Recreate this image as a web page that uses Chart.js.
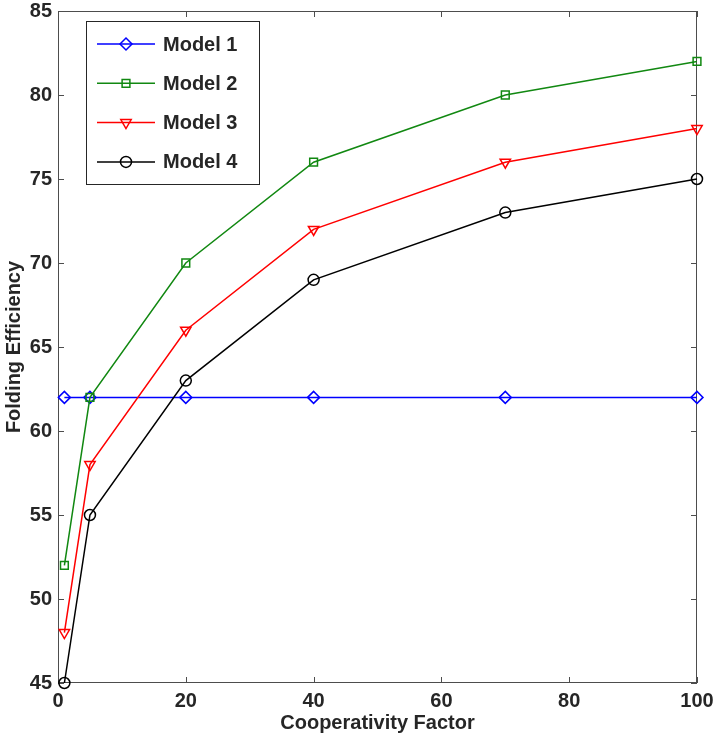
<!DOCTYPE html>
<html>
<head>
<meta charset="utf-8">
<script src="https://cdn.jsdelivr.net/npm/chart.js@4"></script>
<style>
  html, body { margin: 0; padding: 0; background: #fff; }
  #wrap { width: 718px; height: 738px; }
</style>
</head>
<body>
<div id="wrap"><canvas id="myChart" width="718" height="738"></canvas></div>
<script>
// data
const coopFactor = [1, 5, 20, 40, 70, 100];
const model1 = [62, 62, 62, 62, 62, 62];
const model2 = [52, 62, 70, 76, 80, 82];
const model3 = [48, 58, 66, 72, 76, 78];
const model4 = [45, 55, 63, 69, 73, 75];
const seriesNames = ['Model 1', 'Model 2', 'Model 3', 'Model 4'];
const xTicks = [0, 20, 40, 60, 80, 100];
const yTicks = [45, 50, 55, 60, 65, 70, 75, 80, 85];

const FONT = '"Liberation Sans", Arial, Helvetica, sans-serif';
const AXIS_COLOR = '#4d4d4d';
const TEXT_COLOR = '#262626';

function pts(ys) {
  return coopFactor.map((x, i) => ({ x: x, y: ys[i] }));
}

function makeSet(label, ys, color, style, radius, rotation, order) {
  return {
    label: label,
    data: pts(ys),
    borderColor: color,
    backgroundColor: 'rgba(0,0,0,0)',
    borderWidth: 1.5,
    pointStyle: style,
    pointRadius: radius,
    pointRotation: rotation,
    pointBorderColor: color,
    pointBackgroundColor: 'rgba(0,0,0,0)',
    pointBorderWidth: 1.5,
    tension: 0,
    clip: false,
    order: order
  };
}

// box round the plot, inward ticks, legend inside the plot
const matlabLook = {
  id: 'matlabLook',
  beforeDatasetsDraw(chart) {
    const ctx = chart.ctx;
    const a = chart.chartArea;
    const xs = chart.scales.x, ys = chart.scales.y;
    ctx.save();
    ctx.strokeStyle = AXIS_COLOR;
    ctx.lineWidth = 1;
    ctx.strokeRect(a.left + 0.5, a.top + 0.5, a.right - a.left - 1, a.bottom - a.top - 1);
    const tl = 6;
    ctx.beginPath();
    xTicks.forEach(v => {
      const px = Math.round(xs.getPixelForValue(v)) + 0.5;
      ctx.moveTo(px, a.bottom); ctx.lineTo(px, a.bottom - tl);
      ctx.moveTo(px, a.top); ctx.lineTo(px, a.top + tl);
    });
    yTicks.forEach(v => {
      const py = Math.round(ys.getPixelForValue(v)) + 0.5;
      ctx.moveTo(a.left, py); ctx.lineTo(a.left + tl, py);
      ctx.moveTo(a.right, py); ctx.lineTo(a.right - tl, py);
    });
    ctx.stroke();
    ctx.restore();
  },
  afterDraw(chart) {
    const ctx = chart.ctx;
    ctx.save();
    const lx = 86, ly = 21, lw = 173, lh = 163;
    ctx.fillStyle = '#ffffff';
    ctx.fillRect(lx, ly, lw, lh);
    ctx.strokeStyle = '#262626';
    ctx.lineWidth = 1;
    ctx.strokeRect(lx + 0.5, ly + 0.5, lw, lh);
    ctx.font = 'bold 20px ' + FONT;
    ctx.textBaseline = 'middle';
    ctx.textAlign = 'left';
    chart.data.datasets.forEach((ds, i) => {
      const y = 44 + i * 39.3;
      ctx.strokeStyle = ds.borderColor;
      ctx.lineWidth = 1.5;
      ctx.beginPath();
      ctx.moveTo(97, y); ctx.lineTo(155, y);
      ctx.stroke();
      ctx.fillStyle = 'rgba(0,0,0,0)';
      Chart.helpers.drawPoint(ctx, {
        pointStyle: ds.pointStyle,
        radius: ds.pointRadius,
        rotation: ds.pointRotation,
        borderWidth: 1.5
      }, 126, y);
      ctx.fillStyle = TEXT_COLOR;
      ctx.fillText(ds.label, 163, y + 1);
    });
    ctx.restore();
  }
};

const ctx = document.getElementById('myChart').getContext('2d');
const myChart = new Chart(ctx, {
  type: 'line',
  data: {
    datasets: [
      makeSet(seriesNames[0], model1, '#0000ff', 'rectRot', 6, 0, 4),
      makeSet(seriesNames[1], model2, '#118811', 'rect', 5.5, 0, 3),
      makeSet(seriesNames[2], model3, '#ff0000', 'triangle', 6, 180, 2),
      makeSet(seriesNames[3], model4, '#000000', 'circle', 5.5, 0, 1)
    ]
  },
  options: {
    responsive: false,
    animation: false,
    layout: { autoPadding: false, padding: { left: 0, right: 21, top: 11, bottom: 0 } },
    plugins: {
      legend: { display: false },
      tooltip: { enabled: false }
    },
    scales: {
      x: {
        type: 'linear',
        min: 0, max: 100,
        afterFit(scale) {
          scale.height = 55;
          scale.paddingLeft = 0; scale.paddingRight = 0;
          scale.paddingTop = 0; scale.paddingBottom = 0;
        },
        afterBuildTicks(scale) { scale.ticks = xTicks.map(v => ({ value: v })); },
        grid: { display: false, drawTicks: false },
        border: { display: false },
        ticks: { color: TEXT_COLOR, padding: 6, font: { family: FONT, size: 20, weight: 'bold' }, maxRotation: 0 },
        title: { display: true, text: 'Cooperativity Factor', color: TEXT_COLOR, padding: { top: 6, bottom: 3 },
                 font: { family: FONT, size: 20, weight: 'bold' } }
      },
      y: {
        type: 'linear',
        min: 45, max: 85,
        afterFit(scale) {
          scale.width = 58;
          scale.paddingLeft = 0; scale.paddingRight = 0;
          scale.paddingTop = 0; scale.paddingBottom = 0;
        },
        afterBuildTicks(scale) { scale.ticks = yTicks.map(v => ({ value: v })); },
        grid: { display: false, drawTicks: false },
        border: { display: false },
        ticks: { color: TEXT_COLOR, padding: 6, font: { family: FONT, size: 20, weight: 'bold' } },
        title: { display: true, text: 'Folding Efficiency', color: TEXT_COLOR, padding: { top: 2, bottom: 0 },
                 font: { family: FONT, size: 20, weight: 'bold' } }
      }
    }
  },
  plugins: [matlabLook]
});
</script>
</body>
</html>
